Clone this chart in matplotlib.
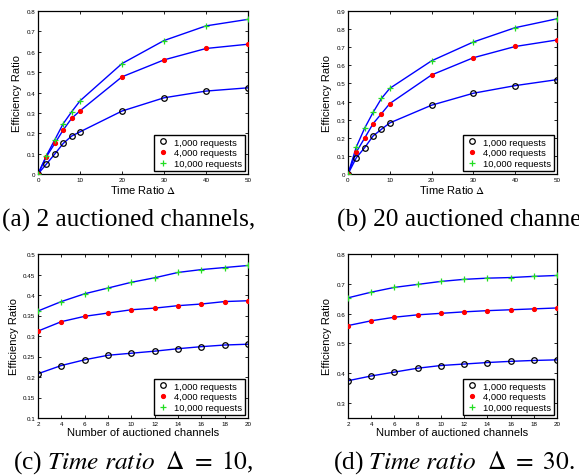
import matplotlib
matplotlib.use("Agg")
import matplotlib.pyplot as plt

plt.rcParams["font.family"] = ["Liberation Sans", "DejaVu Sans"]
plt.rcParams["mathtext.fontset"] = "stix"

# panels (a), (b): efficiency vs time ratio
delta = [0, 2, 4, 6, 8, 10, 20, 30, 40, 50]
a_1k = [0.0, 0.049, 0.098, 0.150, 0.186, 0.207, 0.309, 0.374, 0.407, 0.423]
a_4k = [0.0, 0.085, 0.150, 0.216, 0.273, 0.310, 0.477, 0.560, 0.616, 0.637]
a_10k = [0.0, 0.090, 0.168, 0.247, 0.305, 0.359, 0.542, 0.655, 0.727, 0.759]

b_1k = [0.0, 0.090, 0.146, 0.210, 0.247, 0.282, 0.380, 0.446, 0.488, 0.521]
b_4k = [0.0, 0.122, 0.199, 0.278, 0.333, 0.389, 0.547, 0.642, 0.704, 0.740]
b_10k = [0.0, 0.150, 0.254, 0.340, 0.417, 0.473, 0.625, 0.729, 0.808, 0.857]

# panels (c), (d): efficiency vs number of auctioned channels
channels = [2, 4, 6, 8, 10, 12, 14, 16, 18, 20]
c_1k = [0.208, 0.228, 0.242, 0.253, 0.258, 0.263, 0.269, 0.274, 0.278, 0.280]
c_4k = [0.312, 0.335, 0.348, 0.356, 0.364, 0.368, 0.374, 0.378, 0.384, 0.386]
c_10k = [0.361, 0.384, 0.403, 0.417, 0.431, 0.442, 0.455, 0.462, 0.467, 0.472]

d_1k = [0.375, 0.391, 0.404, 0.417, 0.426, 0.431, 0.436, 0.440, 0.443, 0.445]
d_4k = [0.560, 0.576, 0.588, 0.596, 0.601, 0.606, 0.610, 0.613, 0.616, 0.619]
d_10k = [0.653, 0.672, 0.688, 0.698, 0.708, 0.715, 0.719, 0.721, 0.725, 0.728]

labels = ["1,000 requests", "4,000 requests", "10,000 requests"]
captions = [
    "(a) 2 auctioned channels,",
    "(b) 20 auctioned channels,",
    r"(c) $\mathit{Time\ ratio}\ \ \Delta\ =\ 10$,",
    r"(d) $\mathit{Time\ ratio}\ \ \Delta\ =\ 30$.",
]

fig = plt.figure(figsize=(5.79, 4.77), dpi=100)

panels = [
    ([38, 12, 210, 163], delta, (a_1k, a_4k, a_10k), (0, 50), (0, 0.8),
     [0, 10, 20, 30, 40, 50], [i / 10 for i in range(9)], "Time Ratio $\\Delta$"),
    ([348, 12, 209, 163], delta, (b_1k, b_4k, b_10k), (0, 50), (0, 0.9),
     [0, 10, 20, 30, 40, 50], [i / 10 for i in range(10)], "Time Ratio $\\Delta$"),
    ([38, 255, 210, 164], channels, (c_1k, c_4k, c_10k), (2, 20), (0.1, 0.5),
     channels, [0.1, 0.15, 0.2, 0.25, 0.3, 0.35, 0.4, 0.45, 0.5],
     "Number of auctioned channels"),
    ([348, 255, 209, 164], channels, (d_1k, d_4k, d_10k), (2, 20), (0.25, 0.8),
     channels, [0.3, 0.4, 0.5, 0.6, 0.7, 0.8], "Number of auctioned channels"),
]

W, H = 579, 477
for (box, x, ys, xl, yl, xt, yt, xlabel) in panels:
    l, t, w, h = box
    ax = fig.add_axes([l / W, 1 - (t + h) / H, w / W, h / H])
    styles = [
        dict(marker="o", mfc="none", mec="black", ms=4, mew=0.9),
        dict(marker=".", color="red", ms=5.5),
        dict(marker="+", color="#22dd22", ms=4.5, mew=0.9),
    ]
    for y, st, lab in zip(ys, styles, labels):
        ax.plot(x, y, color="blue", lw=1.0, zorder=2)
        ax.plot(x, y, ls="none", label=lab, zorder=3, **st)
    ax.set_xlim(*xl)
    ax.set_ylim(*yl)
    ax.set_xticks(xt)
    ax.set_yticks(yt)
    ax.set_yticklabels([f"{v:g}" for v in yt])
    ax.tick_params(direction="in", top=True, right=True, labelsize=4.5,
                   length=2.5, width=0.6, pad=2)
    for sp in ax.spines.values():
        sp.set_linewidth(0.9)
    ax.set_xlabel(xlabel, fontsize=8, labelpad=1)
    ax.set_ylabel("Efficiency Ratio", fontsize=8, labelpad=3)
    leg = ax.legend(loc="lower right", fontsize=6.8, fancybox=False,
                    edgecolor="black", framealpha=1, handlelength=1.2,
                    handletextpad=0.6, borderpad=0.3, labelspacing=0.2,
                    borderaxespad=0.3)
    leg.get_frame().set_linewidth(1.0)

cap_pos = [(2, 220), (337, 220), (13, 463), (333, 463)]
for (cx, cy), txt in zip(cap_pos, captions):
    fig.text(cx / W, 1 - cy / H, txt, fontsize=18.3, family="Liberation Serif",
             va="center", ha="left")

fig.savefig("out.png", dpi=100)
